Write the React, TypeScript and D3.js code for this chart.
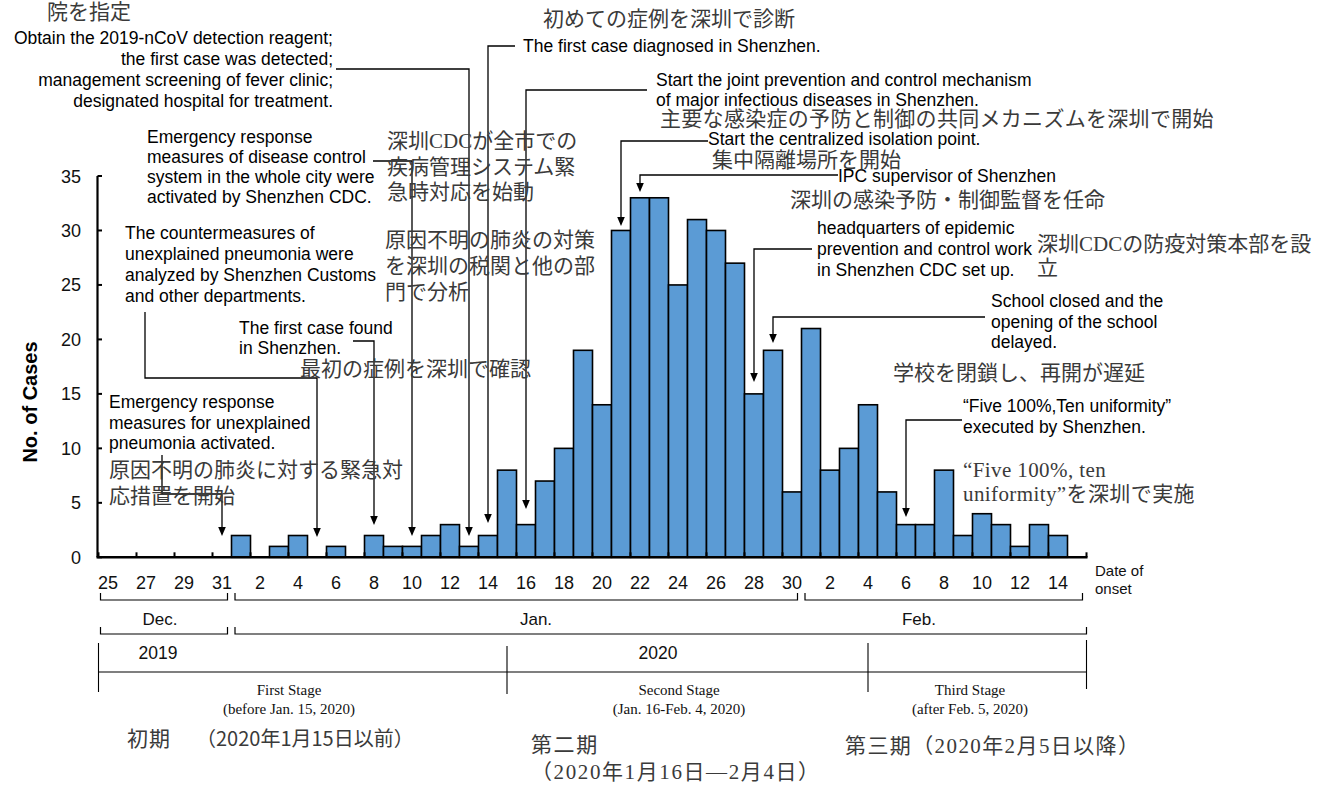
import React from "react";
import * as d3 from "d3";

// ---------- data ----------
const cases = [
  0, 0, 0, 0, 0, 0, 0,
  2, 0, 1, 2, 0, 1, 0, 2, 1, 1, 2, 3, 1, 2, 8, 3, 7, 10, 19, 14, 30, 33, 33, 25, 31, 30, 27, 15, 19, 6,
  21, 8, 10, 14, 6, 3, 3, 8, 2, 4, 3, 1, 3, 2, 0,
];
const dayLabels = [
  "25", "27", "29", "31", "2", "4", "6", "8", "10", "12", "14", "16", "18", "20", "22", "24", "26", "28", "30",
  "2", "4", "6", "8", "10", "12", "14",
];
const yTicks = [0, 5, 10, 15, 20, 25, 30, 35];
const months = [
  { label: "Dec.", from: 0, to: 6, lx: 160 },
  { label: "Jan.", from: 7, to: 36, lx: 536 },
  { label: "Feb.", from: 37, to: 51, lx: 919 },
];
const years = [
  { label: "2019", from: 0, to: 6, lx: 158 },
  { label: "2020", from: 7, to: 51, lx: 658 },
];
const stages = [
  { title: "First Stage", sub: "(before Jan. 15, 2020)", cx: 289 },
  { title: "Second Stage", sub: "(Jan. 16-Feb. 4, 2020)", cx: 679 },
  { title: "Third Stage", sub: "(after Feb. 5, 2020)", cx: 970 },
];

// English annotation blocks
const enNotes = [
  { lines: ["Obtain the 2019-nCoV detection reagent;", "the first case was detected;", "management screening of fever clinic;", "designated hospital for treatment."], x: 333, y: 44, dy: 21, anchor: "end" },
  { lines: ["The first case diagnosed in Shenzhen."], x: 523, y: 52, dy: 21, anchor: "start" },
  { lines: ["Start the joint prevention and control mechanism", "of major infectious diseases in Shenzhen."], x: 656, y: 85.5, dy: 20, anchor: "start" },
  { lines: ["Start the centralized isolation point."], x: 708, y: 145, dy: 21, anchor: "start" },
  { lines: ["IPC supervisor of Shenzhen"], x: 838, y: 182, dy: 21, anchor: "start" },
  { lines: ["headquarters of epidemic", "prevention and control work", "in Shenzhen CDC set up."], x: 817, y: 234, dy: 21, anchor: "start" },
  { lines: ["School closed and the", "opening of the school", "delayed."], x: 991, y: 307, dy: 20.5, anchor: "start" },
  { lines: ["\u201CFive 100%,Ten uniformity\u201D", "executed by Shenzhen."], x: 963, y: 412, dy: 21, anchor: "start" },
  { lines: ["Emergency response", "measures of disease control", "system in the whole city were", "activated by Shenzhen CDC."], x: 147, y: 142.5, dy: 20, anchor: "start" },
  { lines: ["The countermeasures of", "unexplained pneumonia were", "analyzed by Shenzhen Customs", "and other departments."], x: 125, y: 239, dy: 21, anchor: "start" },
  { lines: ["The first case found", "in Shenzhen."], x: 239, y: 334, dy: 20, anchor: "start" },
  { lines: ["Emergency response", "measures for unexplained", "pneumonia activated."], x: 109, y: 408, dy: 20.5, anchor: "start" },
];

// Japanese annotation blocks
const jpNotes = [
  { lines: ["院を指定"], x: 47, y: 19, dy: 25, ls: 0 },
  { lines: ["初めての症例を深圳で診断"], x: 543, y: 26, dy: 25, ls: 0 },
  { lines: ["主要な感染症の予防と制御の共同メカニズムを深圳で開始"], x: 660, y: 126, dy: 25, ls: 0.3 },
  { lines: ["集中隔離場所を開始"], x: 712, y: 167, dy: 25, ls: 0 },
  { lines: ["深圳の感染予防・制御監督を任命"], x: 790, y: 207, dy: 25, ls: 0 },
  { lines: ["深圳CDCの防疫対策本部を設", "立"], x: 1037, y: 251, dy: 24, ls: 0 },
  { lines: ["学校を閉鎖し、再開が遅延"], x: 893, y: 380, dy: 25, ls: 0 },
  { lines: ["\u201CFive 100%, ten", "uniformity\u201Dを深圳で実施"], x: 963, y: 477, dy: 24, ls: 0.4 },
  { lines: ["深圳CDCが全市での", "疾病管理システム緊", "急時対応を始動"], x: 387, y: 148, dy: 25.5, ls: 0 },
  { lines: ["原因不明の肺炎の対策", "を深圳の税関と他の部", "門で分析"], x: 385, y: 247, dy: 26, ls: 0 },
  { lines: ["最初の症例を深圳で確認"], x: 300, y: 376, dy: 25, ls: 0 },
  { lines: ["原因不明の肺炎に対する緊急対", "応措置を開始"], x: 109, y: 477, dy: 26, ls: 0 },
  { lines: ["初期"], x: 127, y: 746, dy: 25, ls: 1 },
  { lines: ["第二期", "（2020年1月16日—2月4日）"], x: 531, y: 752, dy: 27, ls: 1.6 },
  { lines: ["第三期（2020年2月5日以降）"], x: 845, y: 753, dy: 25, ls: 1.4 },
];

// leader lines: target bar index, waypoints before the bend, bend y, arrow tip y
const leaders = [
  { target: 19, pts: [[336, 69]], bendY: 69, tipY: 536 },
  { target: 20, pts: [[515, 46]], bendY: 46, tipY: 523 },
  { target: 22, pts: [[647, 90]], bendY: 90, tipY: 509 },
  { target: 27, pts: [[708, 141]], bendY: 141, tipY: 226 },
  { target: 28, pts: [[838, 175]], bendY: 175, tipY: 192 },
  { target: 34, pts: [[812, 249]], bendY: 249, tipY: 382 },
  { target: 35, pts: [[985, 317]], bendY: 317, tipY: 343 },
  { target: 42, pts: [[962, 420]], bendY: 420, tipY: 517 },
  { target: 16, pts: [[373, 161]], bendY: 161, tipY: 536 },
  { target: 11, pts: [[145, 312], [145, 378]], bendY: 378, tipY: 537 },
  { target: 14, pts: [[353, 341]], bendY: 341, tipY: 525 },
  { target: 6, pts: [[162, 455], [162, 494]], bendY: 494, tipY: 536 },
];

// ---------- layout ----------
const W = 1319;
const H = 787;
const SANS = "'Liberation Sans', Arial, sans-serif";
const SERIF = "'Liberation Serif', 'Times New Roman', serif";
const JP = "'Liberation Serif', 'Noto Sans CJK JP', serif";
const JPS = "'Noto Sans CJK JP', sans-serif";

const x = d3
  .scaleBand<number>()
  .domain(d3.range(cases.length))
  .range([98.5, 98.5 + 19 * cases.length])
  .padding(0);
const y = d3.scaleLinear().domain([0, 35]).range([557.3, 176]);

export default function App() {
  const bw = x.bandwidth();
  const x0 = x(0)!;
  const xEnd = x(cases.length - 1)! + bw;
  const cx = (i: number) => x(i)! + bw / 2;
  const left = (i: number) => x(i)!;
  const right = (i: number) => x(i)! + bw;

  const bracket = (a: number, b: number, yy: number, h: number) =>
    `M${a},${yy - h}V${yy}H${b}V${yy - h}`;

  return (
    <svg
      width={W}
      height={H}
      viewBox={`0 0 ${W} ${H}`}
      style={{ position: "absolute", left: 0, top: 0, background: "#fff" }}
    >
      <rect width={W} height={H} fill="#fff" />

      {/* bars */}
      {cases.map((v, i) =>
        v > 0 ? (
          <rect
            key={i}
            x={x(i)}
            y={y(v)}
            width={bw}
            height={y(0) - y(v)}
            fill="#5B9BD5"
            stroke="#000"
            strokeWidth={1.6}
          />
        ) : null
      )}

      {/* y axis */}
      <line x1={x0 - 1} x2={x0 - 1} y1={y(35)} y2={y(0)} stroke="#000" strokeWidth={2.2} />
      {yTicks.map((t) => (
        <g key={t}>
          <line x1={x0 - 1} x2={x0 + 3.5} y1={y(t)} y2={y(t)} stroke="#000" strokeWidth={2} />
          <text
            x={81}
            y={y(t) + 6.5}
            textAnchor="end"
            fontFamily={SANS}
            fontSize={18}
            fill="#111"
          >
            {t}
          </text>
        </g>
      ))}
      <text
        transform={`translate(37,402) rotate(-90)`}
        textAnchor="middle"
        fontFamily={SANS}
        fontWeight="bold"
        fontSize={20}
      >
        No. of Cases
      </text>

      {/* x axis */}
      <line x1={x0 - 2} x2={xEnd + 1} y1={y(0)} y2={y(0)} stroke="#000" strokeWidth={2.6} />
      {d3.range(0, cases.length + 1, 2).map((k) => {
        const xx = k < cases.length ? left(k) : xEnd;
        return <line key={k} x1={xx} x2={xx} y1={y(0)} y2={y(0) - 5} stroke="#000" strokeWidth={2} />;
      })}
      {dayLabels.map((lab, k) => (
        <text
          key={k}
          x={cx(2 * k)}
          y={589}
          textAnchor="middle"
          fontFamily={SANS}
          fontSize={18}
          fill="#111"
        >
          {lab}
        </text>
      ))}
      <text fontFamily={SANS} fontSize={15} fill="#111">
        <tspan x={1095} y={576}>Date of</tspan>
        <tspan x={1095} y={594}>onset</tspan>
      </text>

      {/* month brackets */}
      {months.map((m) => (
        <g key={m.label}>
          <path
            d={bracket(left(m.from) + (m.from === 0 ? 2 : 3.5), right(m.to) - 4, 600, 7)}
            fill="none"
            stroke="#000"
            strokeWidth={1.2}
          />
          <text x={m.lx} y={625} textAnchor="middle" fontFamily={SANS} fontSize={17} fill="#111">
            {m.label}
          </text>
        </g>
      ))}
      {years.map((yr) => (
        <g key={yr.label}>
          <path
            d={bracket(left(yr.from) + (yr.from === 0 ? 2 : 3.5), right(yr.to) - (yr.to === 6 ? 4 : 0), 634, 7)}
            fill="none"
            stroke="#000"
            strokeWidth={1.2}
          />
          <text x={yr.lx} y={659} textAnchor="middle" fontFamily={SANS} fontSize={17.5} fill="#111">
            {yr.label}
          </text>
        </g>
      ))}

      {/* stage line */}
      <line x1={x0} x2={xEnd} y1={672} y2={672} stroke="#000" strokeWidth={1.1} />
      <line x1={x0} x2={x0} y1={643} y2={692} stroke="#000" strokeWidth={1.1} />
      <line x1={cx(21)} x2={cx(21)} y1={646} y2={694} stroke="#000" strokeWidth={1.1} />
      <line x1={cx(40)} x2={cx(40)} y1={643} y2={692} stroke="#000" strokeWidth={1.1} />
      <line x1={xEnd} x2={xEnd} y1={640} y2={689} stroke="#000" strokeWidth={1.1} />
      {stages.map((s) => (
        <text key={s.title} textAnchor="middle" fontFamily={SERIF} fontSize={15} fill="#111">
          <tspan x={s.cx} y={695}>{s.title}</tspan>
          <tspan x={s.cx} y={714}>{s.sub}</tspan>
        </text>
      ))}

      {/* leader lines with arrows */}
      {leaders.map((l, i) => {
        const xc = cx(l.target);
        const pts = l.pts.map((p) => `${p[0]},${p[1]}`).join(" L");
        const d = `M${pts} L${xc},${l.bendY} L${xc},${l.tipY - 8}`;
        return (
          <g key={i}>
            <path d={d} fill="none" stroke="#000" strokeWidth={1.3} />
            <path
              d={`M${xc},${l.tipY} L${xc - 3.8},${l.tipY - 9} L${xc + 3.8},${l.tipY - 9} Z`}
              fill="#000"
            />
          </g>
        );
      })}

      {/* english annotations */}
      {enNotes.map((n, i) => (
        <text key={i} fontFamily={SANS} fontSize={17.5} fill="#000" textAnchor={n.anchor as any}>
          {n.lines.map((ln, j) => (
            <tspan key={j} x={n.x} y={n.y + j * n.dy}>
              {ln}
            </tspan>
          ))}
        </text>
      ))}

      {/* japanese annotations */}
      {jpNotes.map((n, i) => (
        <text key={i} fontFamily={JP} fontSize={21} fill="#3a3a3a" letterSpacing={n.ls}>
          {n.lines.map((ln, j) => (
            <tspan key={j} x={n.x} y={n.y + j * n.dy}>
              {ln}
            </tspan>
          ))}
        </text>
      ))}
      <text x={196} y={746} fontFamily={JPS} fontSize={20} fill="#3a3a3a">
        （2020年1月15日以前）
      </text>
    </svg>
  );
}
